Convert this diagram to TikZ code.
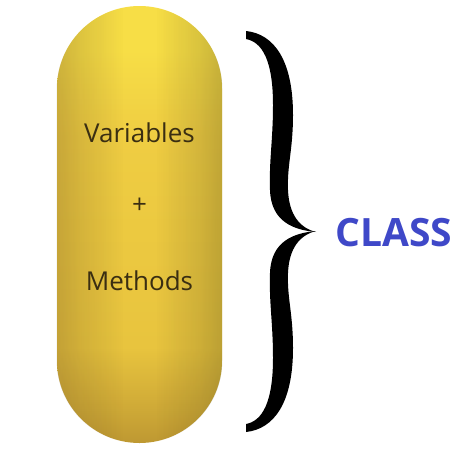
\documentclass[tikz,border=0pt]{standalone}
\usepackage{fontspec}
\setmainfont{Open Sans}
\usetikzlibrary{fadings}
\definecolor{pillTop}{HTML}{F7DE46}
\definecolor{pillMid}{HTML}{EFCD42}
\definecolor{pillLow}{HTML}{E8C43E}
\definecolor{pillBot}{HTML}{BE9832}
\definecolor{pillEdgeL}{HTML}{E2AA4A}
\definecolor{pillEdgeR}{HTML}{B4A23A}
\definecolor{txtDark}{HTML}{3A2E12}
\definecolor{classBlue}{HTML}{3F48C8}
\pgfdeclareverticalshading{pillv}{100bp}{color(0bp)=(pillBot); color(25bp)=(pillBot); color(29bp)=(pillBot!60!pillLow); color(36bp)=(pillLow); color(60bp)=(pillMid); color(70bp)=(pillTop); color(75bp)=(pillTop); color(100bp)=(pillTop)}
\pgfdeclarehorizontalshading{pillh}{100bp}{color(0bp)=(pillEdgeL); color(25bp)=(pillEdgeL); color(75bp)=(pillEdgeR); color(100bp)=(pillEdgeR)}
\pgfdeclarehorizontalshading{edgemask}{100bp}{color(0bp)=(white!45!black); color(15bp)=(white!30!black); color(32bp)=(white!10!black); color(45bp)=(black); color(55bp)=(black); color(68bp)=(white!10!black); color(85bp)=(white!30!black); color(100bp)=(white!50!black)}
\pgfdeclarefading{edgefade}{\pgfuseshading{edgemask}}
\tikzset{
  pill/.style={rectangle, rounded corners=82.5pt, minimum width=165pt, minimum height=437pt, inner sep=0pt, shading=pillv},
  pilltext/.style={text=txtDark, font=\fontsize{26}{30}\selectfont, inner sep=0pt},
  classtext/.style={text=classBlue, font=\fontsize{39}{44}\selectfont\bfseries, inner sep=0pt},
  bracefill/.style={fill=black, draw=none}
}
\begin{document}
\begin{tikzpicture}[x=1pt,y=-1pt]
\useasboundingbox (0,0) rectangle (473,463);
\node[pill] (pill) at (139.5,224.5) {};
\fill[shading=pillh, path fading=edgefade, fit fading=true] (pill.south west) [rounded corners=82.5pt] rectangle (pill.north east);
\node[pilltext] (vars) at (139.5,133) {Variables};
\node[pilltext] (plus) at (139.5,206) {+};
\node[pilltext] (meth) at (139.5,281) {Methods};
% brace, upper half
\fill[bracefill] (246,31) .. controls (274,34) and (293,60) .. (293,115)
  .. controls (293,150) and (287,165) .. (288,190)
  .. controls (289,215) and (300,228) .. (316,232)
  .. controls (294,230) and (271,222) .. (270,190)
  .. controls (269,160) and (273,140) .. (273,105)
  .. controls (273,60) and (262,42) .. (246,39) -- cycle;
\begin{scope}[shift={(0,463)}, yscale=-1]
\fill[bracefill] (246,31) .. controls (274,34) and (293,60) .. (293,115)
  .. controls (293,150) and (287,165) .. (288,190)
  .. controls (289,215) and (300,228) .. (316,232)
  .. controls (294,230) and (271,222) .. (270,190)
  .. controls (269,160) and (273,140) .. (273,105)
  .. controls (273,60) and (262,42) .. (246,39) -- cycle;
\end{scope}
\node[classtext] (class) at (394,233) {CLASS};
\end{tikzpicture}
\end{document}
